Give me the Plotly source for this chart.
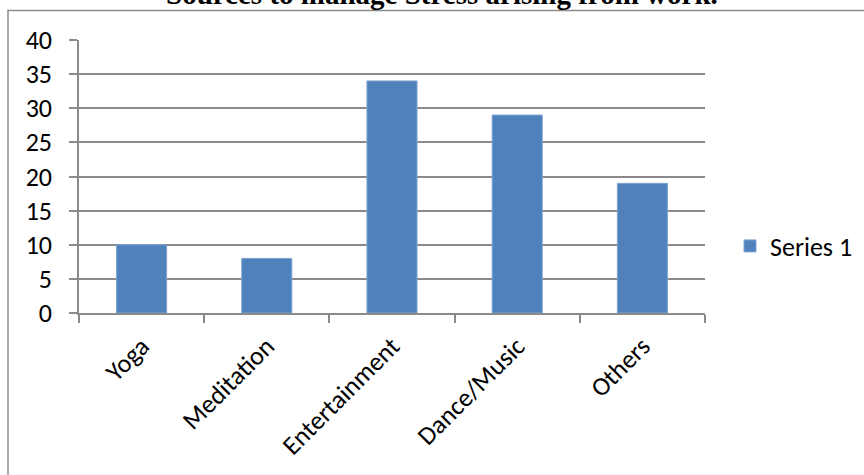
import plotly.graph_objects as go

categories = ["Yoga", "Meditation", "Entertainment", "Dance/Music", "Others"]
values = [10, 8, 34, 29, 19]
series_name = "Series 1"
title_text = "Sources to manage Stress arising from work."

W, H = 864, 475
L, R, T, B = 79, 159, 40, 162
pw, ph = W - L - R, H - T - B

def px_x(x):
    return (x - L) / pw

def px_y(y):
    return (H - B - y) / ph

grid = "#8a8a8a"
font_fam = "Carlito, Calibri, Lato, sans-serif"
fs = 26

fig = go.Figure(go.Bar(
    x=categories, y=values, name=series_name,
    marker=dict(color="#4F81BD", line=dict(color="#7fa3d0", width=1)),
    showlegend=True,
))

fig.update_layout(
    width=W, height=H,
    margin=dict(l=L, r=R, t=T, b=B, autoexpand=False),
    paper_bgcolor="white", plot_bgcolor="white",
    bargap=0.6,
    font=dict(family=font_fam, size=fs, color="black"),
    legend=dict(xref="container", yref="container",
                x=730 / W, y=1 - 246 / H, xanchor="left", yanchor="middle",
                font=dict(family=font_fam, size=fs, color="black"),
                itemwidth=30, bgcolor="rgba(0,0,0,0)"),
    xaxis=dict(showline=True, linecolor=grid, linewidth=1.5,
               ticks="outside", ticklen=8, tickcolor=grid, tickwidth=1.5,
               tickson="boundaries", tickangle=-45,
               ticklabelstandoff=6,
               showgrid=False, tickfont=dict(family=font_fam, size=fs)),
    yaxis=dict(range=[0, 40], dtick=5, showline=True, linecolor=grid, linewidth=1.5,
               ticks="outside", ticklen=8, tickcolor=grid, tickwidth=1.5,
               showgrid=True, gridcolor=grid, gridwidth=1.5, zeroline=False,
               ticklabelstandoff=12,
               tickfont=dict(family=font_fam, size=fs)),
    shapes=[dict(type="rect", xref="paper", yref="paper",
                 x0=px_x(8), x1=px_x(880), y0=px_y(490), y1=px_y(10.5),
                 line=dict(color="#8c8c8c", width=1.5), fillcolor="rgba(0,0,0,0)",
                 layer="below")],
    annotations=[dict(text="<b>" + title_text + "</b>", xref="paper", yref="paper",
                      x=px_x(442), y=px_y(12), xanchor="center", yanchor="bottom",
                      showarrow=False,
                      font=dict(family="Liberation Serif, Times New Roman, serif", size=29, color="black"))],
)

fig.write_html("out.html")
